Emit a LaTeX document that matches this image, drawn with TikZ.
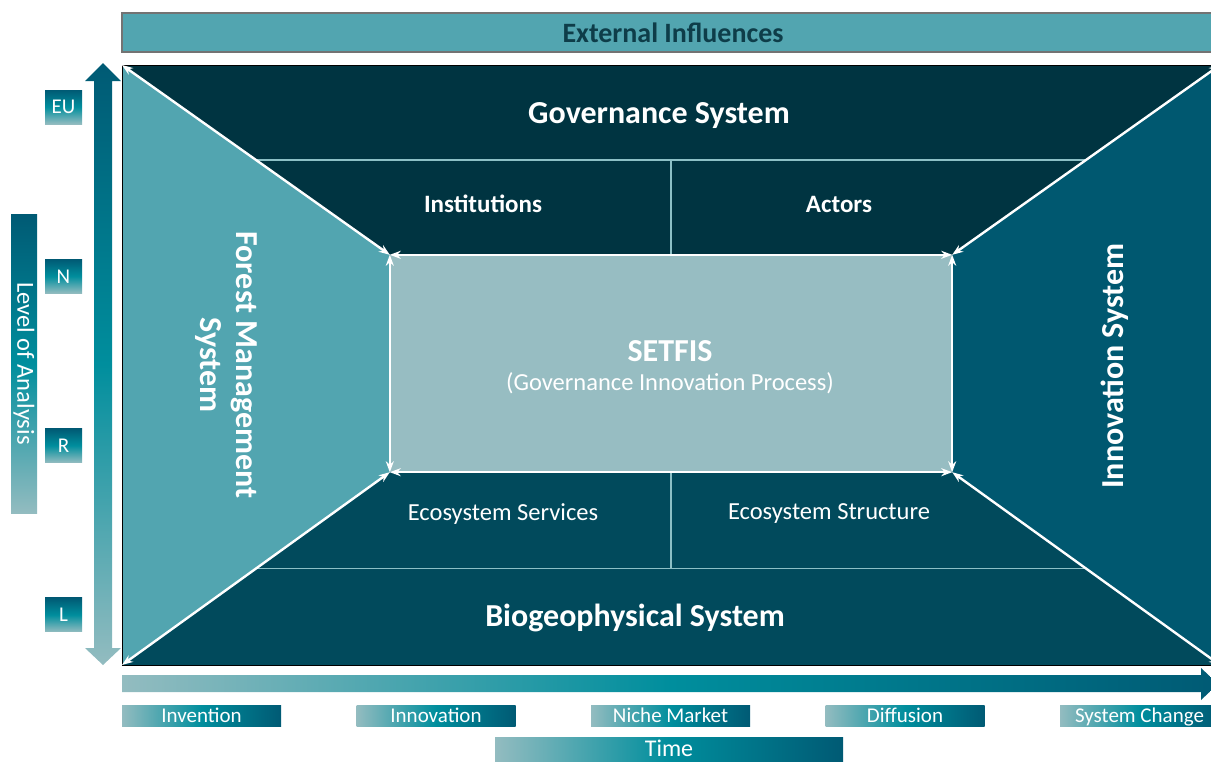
\documentclass[tikz,border=0pt]{standalone}
\usepackage{fontspec}
\setmainfont{Carlito}
\usetikzlibrary{positioning,arrows.meta,calc,backgrounds}

\definecolor{extteal}{HTML}{52A5B0}
\definecolor{exttext}{HTML}{0E3D49}
\definecolor{govdark}{HTML}{003441}
\definecolor{biodark}{HTML}{014A5C}
\definecolor{innoteal}{HTML}{005870}
\definecolor{forestteal}{HTML}{52A5B0}
\definecolor{setfisgrey}{HTML}{97BDC2}
\definecolor{fadelight}{HTML}{93BCC0}
\definecolor{fademid}{HTML}{008E9D}
\definecolor{fadedark}{HTML}{005A74}
\definecolor{divline}{HTML}{8CC0C6}

\pgfdeclarehorizontalshading{hfade}{100bp}{color(0bp)=(fadelight); color(25bp)=(fadelight);
  color(50bp)=(fademid); color(75bp)=(fadedark); color(100bp)=(fadedark)}
\pgfdeclareverticalshading{vfade}{100bp}{color(0bp)=(fadelight); color(25bp)=(fadelight);
  color(50bp)=(fademid); color(75bp)=(fadedark); color(100bp)=(fadedark)}

\tikzset{
  sysarr/.style={{Stealth[length=11pt,width=8pt]}-{Stealth[length=11pt,width=8pt]},line width=2.4pt,white},
  divln/.style={line width=1.2pt,divline},
  systxt/.style={text=white,font=\fontsize{32}{36}\selectfont\bfseries},
  subtxt/.style={text=white,font=\fontsize{24.5}{28}\selectfont},
  setbox/.style={fill=setfisgrey,minimum width=562pt,minimum height=217pt,inner sep=0pt},
  extbar/.style={fill=extteal,draw=black!55,line width=1.3pt,minimum width=1102pt,minimum height=39pt,
    inner sep=0pt,text=exttext,font=\fontsize{28}{30}\selectfont\bfseries},
  lvlbox/.style={shade,shading=vfade,minimum width=37pt,minimum height=34pt,inner sep=0pt,
    text=white,font=\fontsize{21}{22}\selectfont},
  phasebox/.style={shade,shading=hfade,minimum width=159pt,minimum height=21pt,inner sep=0pt,
    text height=16pt,text depth=2.5pt,text=white,font=\fontsize{21}{22}\selectfont},
}

\begin{document}
\begin{tikzpicture}[x=1pt,y=-1pt]
  \useasboundingbox (0,0) rectangle (1211,761);
  \node[extbar] (ext) at (673,32.5) {External Influences};

  % frame corners and the process box in the middle
  \coordinate (ftl) at (122,65);  \coordinate (ftr) at (1220,65);
  \coordinate (fbl) at (122,665); \coordinate (fbr) at (1220,665);
  \node[setbox] (setfis) at (671,363.5) {};
  \begin{scope}[on background layer]
    \fill[govdark] (ftl) -- (ftr) -- (setfis.north east) -- (setfis.north west) -- cycle;
    \fill[biodark] (fbl) -- (fbr) -- (setfis.south east) -- (setfis.south west) -- cycle;
    \fill[forestteal] (ftl) -- (setfis.north west) -- (setfis.south west) -- (fbl) -- cycle;
    \fill[innoteal] (ftr) -- (setfis.north east) -- (setfis.south east) -- (fbr) -- cycle;
    % sub-panels of governance and biogeophysical parts
    \draw[divln] ($(ftl)!0.5!(setfis.north west)$) coordinate (gl)
      -- ($(ftr)!0.5!(setfis.north east)$) coordinate (gr);
    \draw[divln] ($(fbl)!0.5!(setfis.south west)$) coordinate (bl)
      -- ($(fbr)!0.5!(setfis.south east)$) coordinate (br);
    \draw[divln] (671,0 |- gl) -- (setfis.north);
    \draw[divln] (671,0 |- bl) -- (setfis.south);
  \end{scope}
  \draw[line width=1pt] (ftl) rectangle (fbr);

  % white two-way links
  \draw[sysarr] (ftl) -- (setfis.north west);
  \draw[sysarr] (ftr) -- (setfis.north east);
  \draw[sysarr] (fbl) -- (setfis.south west);
  \draw[sysarr] (fbr) -- (setfis.south east);
  \draw[sysarr] (setfis.north west) -- (setfis.north east);
  \draw[sysarr] (setfis.south west) -- (setfis.south east);
  \draw[sysarr] (setfis.north west) -- (setfis.south west);
  \draw[sysarr] (setfis.north east) -- (setfis.south east);

  \node[systxt] (setname) at (670,351) {SETFIS};
  \node[subtxt] (setsub) at (670,383) {(Governance Innovation Process)};
  \node[systxt] (gov) at (659,116) {Governance System};
  \node[systxt] (bio) at (635,618) {Biogeophysical System};
  \node[subtxt,font=\fontsize{25}{28}\selectfont\bfseries] (inst) at (483,204) {Institutions};
  \node[subtxt,font=\fontsize{25}{28}\selectfont\bfseries] (act) at (839,204) {Actors};
  \node[subtxt] (ess) at (503,514) {Ecosystem Services};
  \node[subtxt] (est) at (829,514) {Ecosystem Structure};
  \node[systxt,rotate=-90,align=center] (fms) at (226,365) {Forest Management\\System};
  \node[systxt,rotate=90] (ins) at (1115,366) {Innovation System};

  % level of analysis
  \shade[shading=vfade] (103,63) -- (121,81) -- (112,81) -- (112,648) -- (121,648) -- (103,665)
    -- (85,648) -- (94,648) -- (94,81) -- (85,81) -- cycle;
  \node[lvlbox,minimum width=26pt,minimum height=299pt] (loa) at (24,363.5) {};
  \node[rotate=-90,text=white,font=\fontsize{24.5}{26}\selectfont] at (loa) {Level of Analysis};
  \foreach \lv [count=\i from 0] in {EU,N,R,L}
    \node[lvlbox] (lv\i) at (63.5,107+169.3*\i) {\lv};

  % time axis and phases
  \shade[shading=hfade] (122,675) -- (1201,675) -- (1201,668) -- (1218,684) -- (1201,700)
    -- (1201,692) -- (122,692) -- cycle;
  \foreach \ph [count=\i from 0] in {Invention,Innovation,Niche Market,Diffusion,System Change}
    \node[phasebox] (ph\i) at (201.5+234.5*\i,715.5) {\ph};
  \node[phasebox,minimum width=348pt,minimum height=24pt,text height=17.5pt,
    font=\fontsize{24}{26}\selectfont] (time) at (669,749) {Time};
\end{tikzpicture}
\end{document}
